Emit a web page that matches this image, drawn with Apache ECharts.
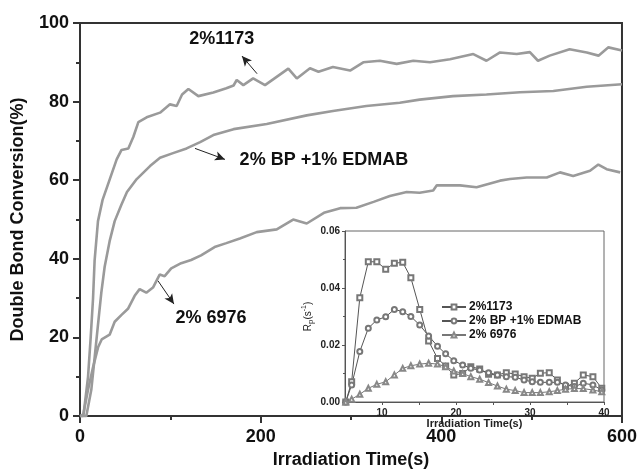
<!DOCTYPE html>
<html><head><meta charset="utf-8">
<script src="https://cdn.jsdelivr.net/npm/echarts@6/dist/echarts.min.js"></script>
<style>html,body{margin:0;padding:0;background:#fff}#c{width:640px;height:474px}</style>
</head><body><div id="c"></div>
<script>
// ---- Main chart data (Irradiation time s, conversion %) ----
const t1173 = [0,4,8.9,11.8,14.4,16.2,19.9,25,33,40.6,46,53.5,59,64.6,73.8,88.6,99.6,107,113,120,131,147.6,162,170,173.5,180.8,191.7,204.8,217.7,230.6,240,254.6,264,280,299,313.6,332,350.6,369,387.5,409.6,435.4,450,465,483.5,498,507,520,542,561,574,585,600];
const v1173 = [0,0.5,10,19.9,29.8,39.7,49.6,55,60.3,65.3,67.7,68.1,71,74.8,76,77.2,79.3,78.9,81.8,83.2,81.4,82.3,83.4,84.1,85.5,84.2,85.9,84.2,86.3,88.4,85.9,88.5,87.6,88.8,87.9,90,90.4,89.6,90.4,90,90.8,92.1,90.4,92.5,92.1,92.6,90.4,91.7,93.3,92.5,91.7,93.8,93];
const tBP = [0,7,12.5,16.2,19.9,23.6,27.3,32.8,38.4,45.7,52,62.8,77.5,88.6,103,118,133,147.6,170,206.7,251,280,317,354,376,413,450,487,524,561,600];
const vBP = [0,0,6.7,14.9,23.2,31.4,38,44.5,49.6,53.7,57,60.3,63.6,65.7,66.9,68.1,69.7,71.5,73,74.3,76.5,77.6,78.9,79.7,80.5,81.4,81.8,82.4,82.7,83.8,84.4];
const t6976 = [0,3.3,8.9,14.4,20,24,32.8,38.4,45.7,53.1,60.5,66,73.4,80.8,88.2,93.7,101,112,123,134,149,162,177,195.6,217.8,236,251,270,288,306,325,343,361.7,376,391,395,420.7,439,465,476,494.5,516.7,531.4,546,564.6,573.8,583,598];
const v6976 = [0,0,6.7,12.4,17.5,19.5,20.7,24,25.7,27.3,30.6,32.3,31.4,32.7,36,35.6,37.6,38.9,39.7,40.9,43,44,45.2,46.8,47.5,50,49,51.7,52.9,53,54.5,56,57,56.8,57.4,58.7,58.7,58.2,59.9,60.3,60.7,60.7,62,61.1,62.4,64,62.8,62];

// ---- Inset data (Irradiation time s, Rp s^-1) ----
const insetTime = [5.1,5.9,7.0,8.15,9.3,10.5,11.67,12.8,13.9,15.1,16.3,17.5,18.6,19.7,20.9,22.0,23.2,24.4,25.6,26.8,28.0,29.2,30.3,31.4,32.6,33.7,34.8,36.0,37.2,38.5,39.7];
const rp1173 = [0,0.0071,0.0366,0.0492,0.0492,0.0466,0.0487,0.049,0.0436,0.0325,0.0214,0.0153,0.0126,0.0095,0.0100,0.0124,0.0116,0.0097,0.0095,0.0103,0.0098,0.0089,0.0083,0.0101,0.0103,0.0077,0.0054,0.0066,0.0095,0.0089,0.0048];
const rpBP = [0,0.006,0.0177,0.0259,0.0288,0.0299,0.0325,0.0317,0.030,0.027,0.0232,0.0196,0.0169,0.0145,0.013,0.0118,0.0112,0.0103,0.0095,0.0089,0.0087,0.0077,0.0071,0.0069,0.0069,0.0069,0.006,0.0054,0.0066,0.006,0.0042];
const rp6976 = [0,0.001,0.0027,0.0048,0.0062,0.0071,0.0095,0.0118,0.0127,0.0133,0.0136,0.0133,0.0124,0.0109,0.0100,0.0089,0.008,0.0068,0.0056,0.0045,0.004,0.0033,0.0033,0.0033,0.0036,0.004,0.0045,0.0047,0.0047,0.0042,0.0036];
const insetXLabels = [10,20,30,40];
const insetXTicks = [10,15,20,25,30,35,40];

const names = ['2%1173','2% BP +1% EDMAB','2% 6976'];

function pairs(t, v) { return t.map((x, i) => [x, v[i]]); }
const FONT = '"Liberation Sans", Arial, sans-serif';
const AX = '#333';

const chart = echarts.init(document.getElementById('c'), null, {renderer: 'canvas'});

const mainLine = {color: '#9a9a9a', width: 2.6};
const arrowML = (from, to) => ({
  silent: true, symbol: ['none', 'arrow'], symbolSize: [7, 10],
  lineStyle: {color: '#222', width: 1, type: 'solid'}, label: {show: false},
  data: [[{coord: from}, {coord: to}]]
});
const textMP = (coord, txt) => ({
  silent: true, symbol: 'rect', symbolSize: 0,
  label: {show: true, position: 'inside', formatter: txt, fontSize: 18, fontWeight: 'bold', color: '#111', fontFamily: FONT},
  data: [{coord: coord}]
});

const option = {
  animation: false,
  backgroundColor: '#fff',
  grid: [
    {left: 80, right: 18, top: 23, bottom: 47, show: true, borderColor: AX, borderWidth: 2, backgroundColor: 'transparent'},
    {left: 345, right: 36, top: 231, bottom: 72, show: true, borderColor: '#666', borderWidth: 1, backgroundColor: '#fff', z: 8}
  ],
  xAxis: [
    {gridIndex: 0, type: 'value', min: 0, max: 600, interval: 200,
     axisLine: {lineStyle: {color: AX, width: 2}},
     axisTick: {length: 7, lineStyle: {color: AX, width: 2}},
     minorTick: {show: true, splitNumber: 2, length: 4, lineStyle: {color: AX, width: 2}},
     splitLine: {show: false},
     axisLabel: {fontSize: 18, fontWeight: 'bold', color: '#111', fontFamily: FONT, margin: 12},
     name: 'Irradiation Time(s)', nameLocation: 'middle', nameGap: 34,
     nameTextStyle: {fontSize: 18, fontWeight: 'bold', color: '#111', fontFamily: FONT}},
    {gridIndex: 1, type: 'value', min: 5, max: 40, z: 9,
     axisLine: {lineStyle: {color: '#555', width: 1}},
     axisTick: {customValues: insetXTicks, length: 3, lineStyle: {color: '#555'}},
     splitLine: {show: false},
     axisLabel: {customValues: insetXLabels, fontSize: 10, fontWeight: 'bold', color: '#222', fontFamily: FONT, margin: 6},
     name: 'Irradiation Time(s)', nameLocation: 'middle', nameGap: 16,
     nameTextStyle: {fontSize: 11, fontWeight: 'bold', color: '#222', fontFamily: FONT}}
  ],
  yAxis: [
    {gridIndex: 0, type: 'value', min: 0, max: 100, interval: 20,
     axisLine: {lineStyle: {color: AX, width: 2}},
     axisTick: {length: 7, lineStyle: {color: AX, width: 2}},
     minorTick: {show: true, splitNumber: 2, length: 4, lineStyle: {color: AX, width: 2}},
     splitLine: {show: false},
     axisLabel: {fontSize: 18, fontWeight: 'bold', color: '#111', fontFamily: FONT, margin: 11},
     name: 'Double Bond Conversion(%)', nameLocation: 'middle', nameGap: 53,
     nameTextStyle: {fontSize: 18, fontWeight: 'bold', color: '#111', fontFamily: FONT}},
    {gridIndex: 1, type: 'value', min: 0, max: 0.06, interval: 0.02, z: 9,
     axisLine: {lineStyle: {color: '#555', width: 1}},
     axisTick: {length: 3, lineStyle: {color: '#555'}},
     minorTick: {show: true, splitNumber: 2, length: 2, lineStyle: {color: '#555'}},
     splitLine: {show: false},
     axisLabel: {fontSize: 10, fontWeight: 'bold', color: '#222', fontFamily: FONT, margin: 5,
                 formatter: v => v.toFixed(2)},
     name: '{r|R}{s|p}{r|(s}{u|-1}{r|)}', nameLocation: 'middle', nameGap: 30,
     nameTextStyle: {fontFamily: FONT, color: '#222',
       rich: {r: {fontSize: 10, fontFamily: FONT, color: '#222', verticalAlign: 'middle'},
              s: {fontSize: 8, fontFamily: FONT, color: '#222', verticalAlign: 'bottom', padding: [6, 0, 0, 0]},
              u: {fontSize: 7, fontFamily: FONT, color: '#222', verticalAlign: 'top', padding: [0, 0, 6, 0]}}}}
  ],
  legend: {
    data: names, orient: 'vertical', left: 436, top: 296, itemGap: 2,
    itemWidth: 24, itemHeight: 6, z: 20,
    textStyle: {fontSize: 12, fontWeight: 'bold', color: '#111', fontFamily: FONT, padding: [0, 0, 0, -2]},
    backgroundColor: 'transparent'
  },
  series: [
    {type: 'line', xAxisIndex: 0, yAxisIndex: 0, data: pairs(t1173, v1173), showSymbol: false,
     lineStyle: mainLine, itemStyle: {color: '#9a9a9a'},
     markLine: arrowML([196, 87.1], [179.3, 91.6]),
     markPoint: textMP([157, 95.8], '2%1173')},
    {type: 'line', xAxisIndex: 0, yAxisIndex: 0, data: pairs(tBP, vBP), showSymbol: false,
     lineStyle: mainLine, itemStyle: {color: '#9a9a9a'},
     markLine: arrowML([127.3, 68.1], [160.5, 65.3]),
     markPoint: textMP([270, 65.1], '2% BP +1% EDMAB')},
    {type: 'line', xAxisIndex: 0, yAxisIndex: 0, data: pairs(t6976, v6976), showSymbol: false,
     lineStyle: mainLine, itemStyle: {color: '#9a9a9a'},
     markLine: arrowML([86.4, 34.4], [104, 28.5]),
     markPoint: textMP([145, 25], '2% 6976')},
    {name: names[0], type: 'line', xAxisIndex: 1, yAxisIndex: 1, z: 12, data: pairs(insetTime, rp1173),
     symbol: 'emptyRect', symbolSize: 5, lineStyle: {color: '#555', width: 1}, itemStyle: {color: '#777', borderWidth: 1},
     markLine: {silent: true, symbol: ['none', 'arrow'], symbolSize: [5, 7],
                lineStyle: {color: '#222', width: 1, type: 'solid'}, label: {show: false},
                data: [[{coord: [17.6, 0.0509]}, {coord: [17.6, 0.0228]}]]}},
    {name: names[1], type: 'line', xAxisIndex: 1, yAxisIndex: 1, z: 12, data: pairs(insetTime, rpBP),
     symbol: 'emptyCircle', symbolSize: 5, lineStyle: {color: '#555', width: 1}, itemStyle: {color: '#777', borderWidth: 1}},
    {name: names[2], type: 'line', xAxisIndex: 1, yAxisIndex: 1, z: 12, data: pairs(insetTime, rp6976),
     symbol: 'emptyTriangle', symbolSize: 5, lineStyle: {color: '#777', width: 1}, itemStyle: {color: '#888', borderWidth: 1}}
  ]
};
chart.setOption(option);
</script>
</body></html>
